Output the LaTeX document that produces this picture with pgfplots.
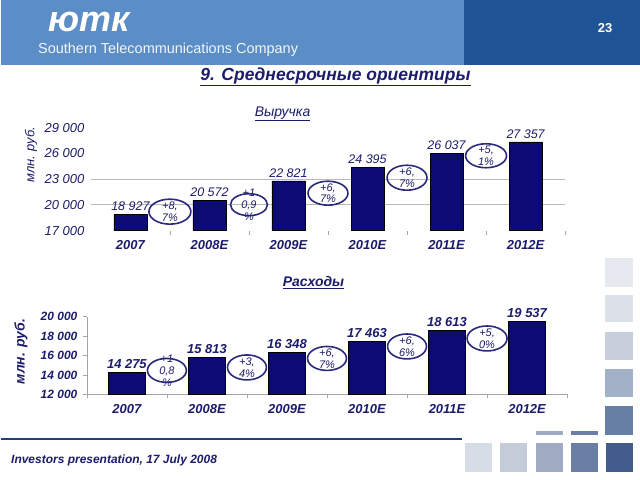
\documentclass[border=0pt]{standalone}
\usepackage{fontspec}
\setmainfont{Liberation Sans}
\usepackage{pgfplots}
\pgfplotsset{compat=1.18}
\usetikzlibrary{shapes.geometric}
\definecolor{hdrlight}{HTML}{5B8DC6}
\definecolor{hdrdark}{HTML}{1F5596}
\definecolor{navy}{HTML}{1C1C6B}
\definecolor{barblue}{HTML}{0B0B73}
\definecolor{ellcol}{HTML}{2A2A7A}
\definecolor{footline}{HTML}{1F3F80}
\definecolor{sqa}{HTML}{E6E9EF}
\definecolor{sqb}{HTML}{DDE2EA}
\definecolor{sqc}{HTML}{C8CFDC}
\definecolor{sqd}{HTML}{A3B1C8}
\definecolor{sqe}{HTML}{687FA5}
\definecolor{sqf}{HTML}{425D8C}
\definecolor{sqg}{HTML}{D7DDE6}
\definecolor{sqh}{HTML}{C5CCD9}
\definecolor{sqi}{HTML}{9EABC3}
\definecolor{sqj}{HTML}{6B7FA4}
\newcommand{\fs}[1]{\fontsize{#1}{#1}\selectfont}
\begin{document}
\begin{tikzpicture}[x=1pt,y=1pt]
% canvas
\fill[white] (0,0) rectangle (640,480);
% header
\fill[hdrlight] (0,415) rectangle (464,480);
\fill[hdrdark] (464,415) rectangle (640,480);
\node[font=\fs{36}\bfseries\itshape, text=white, inner sep=0, anchor=base] at (88,448) {ютк};
\node[font=\fs{14.5}, text=white!92!hdrlight, anchor=west, inner sep=0] at (37,430) {Southern Telecommunications Company};
\node[font=\fs{13}\bfseries, text=white, inner sep=0] at (605,452) {23};
\node[font=\fs{17.5}\bfseries\itshape, text=navy, inner sep=0] at (335,403) {\underline{9. Среднесрочные ориентиры}};
% footer
\draw[footline, line width=2pt] (0,40) -- (462,40);
\node[font=\fs{12}\bfseries\itshape, text=navy, anchor=west, inner sep=0] at (10,19) {Investors presentation, 17 July 2008};
% decorative squares
\fill[sqa] (605,193) rectangle (633,222);
\fill[sqb] (605,157) rectangle (633,185);
\fill[sqc] (605,119) rectangle (633,147);
\fill[sqd] (605,82) rectangle (633,110);
\fill[sqe] (605,44) rectangle (633,73);
\fill[sqf] (606,7) rectangle (633,36);
\fill[sqg] (465,7) rectangle (492,36);
\fill[sqh] (500,7) rectangle (527,36);
\fill[sqi] (536,7) rectangle (563,36);
\fill[sqj] (571,7) rectangle (598,36);
\fill[sqi] (536,44) rectangle (563,48);
\fill[sqj] (571,44) rectangle (598,48);
% chart titles
\node[font=\fs{14}\itshape, text=navy, inner sep=0] at (282,366) {\underline{Выручка}};
\node[font=\fs{14}\bfseries\itshape, text=navy, inner sep=0] at (313,197) {\underline{Расходы}};
\node[font=\fs{13}\itshape, text=navy, rotate=90, inner sep=0] at (30,325) {млн. руб.};
\node[font=\fs{14}\bfseries\itshape, text=navy, rotate=90, inner sep=0] at (20,128) {млн. руб.};
% upper chart
\begin{axis}[at={(90pt,249pt)}, anchor=south west, scale only axis,
  width=475pt, height=103pt, clip=false,
  xmin=-0.5, xmax=5.5, ymin=17000, ymax=29000,
  scaled y ticks=false,
  ybar, bar width=33pt,
  axis line style={draw=none},
  ytick={17000,20000,23000,26000,29000},
  yticklabels={17 000,20 000,23 000,26 000,29 000},
  xtick={0,1,2,3,4,5},
  xticklabels={2007,2008E,2009E,2010E,2011E,2012E},
  major tick length=0pt,
  tick pos=left,
  extra x ticks={0.5,1.5,2.5,3.5,4.5,5.5},
  extra x tick labels={},
  extra x tick style={major tick length=4pt, tick align=outside, tick style={gray!70}},
  extra y ticks={20000,23000},
  extra y tick labels={},
  extra y tick style={ymajorgrids=true, major grid style={gray!55, line width=0.9pt}},
  yticklabel style={font=\fs{13}\itshape, text=navy, xshift=-3pt},
  xticklabel style={font=\fs{13}\bfseries\itshape, text=navy, yshift=-6pt},
  nodes near coords,
  point meta=explicit symbolic,
  every node near coord/.append style={font=\fs{12.5}\itshape, text=navy, yshift=0pt},
]
\addplot[fill=barblue, draw=black, line width=0.4pt] coordinates {
  (0,18927) [18 927]
  (1,20572) [20 572]
  (2,22821) [22 821]
  (3,24395) [24 395]
  (4,26037) [26 037]
  (5,27357) [27 357]
};
\draw[ellcol, line width=1.6pt] (axis cs:0.5,19214) ellipse [x radius=21pt, y radius=12.5pt];
\node[font=\fs{11}\itshape, text=navy, align=center, inner sep=0] at (axis cs:0.5,19214) {+8,\\[1pt]7\%};
\draw[ellcol, line width=1.6pt] (axis cs:1.5,20029) ellipse [x radius=18.5pt, y radius=11pt];
\node[font=\fs{11}\itshape, text=navy, align=center, inner sep=0] at (axis cs:1.5,20029) {+1\\[1pt]0,9\\[1pt]\%};
\draw[ellcol, line width=1.6pt] (axis cs:2.5,21369) ellipse [x radius=20pt, y radius=12pt];
\node[font=\fs{11}\itshape, text=navy, align=center, inner sep=0] at (axis cs:2.5,21369) {+6,\\[1pt]7\%};
\draw[ellcol, line width=1.6pt] (axis cs:3.5,23175) ellipse [x radius=20pt, y radius=12.5pt];
\node[font=\fs{11}\itshape, text=navy, align=center, inner sep=0] at (axis cs:3.5,23175) {+6,\\[1pt]7\%};
\draw[ellcol, line width=1.6pt] (axis cs:4.5,25738) ellipse [x radius=20.5pt, y radius=12pt];
\node[font=\fs{11}\itshape, text=navy, align=center, inner sep=0] at (axis cs:4.5,25738) {+5,\\[1pt]1\%};
\end{axis}
% lower chart
\begin{axis}[at={(86pt,85pt)}, anchor=south west, scale only axis,
  width=481pt, height=78pt, clip=false,
  xmin=-0.5, xmax=5.5, ymin=12000, ymax=20000,
  scaled y ticks=false,
  ybar, bar width=37pt,
  axis x line*=bottom, axis y line*=left,
  axis line style={gray!70, line width=0.6pt},
  ytick={12000,14000,16000,18000,20000},
  yticklabels={12 000,14 000,16 000,18 000,20 000},
  xtick={0,1,2,3,4,5},
  xticklabels={2007,2008E,2009E,2010E,2011E,2012E},
  x tick style={draw=none},
  y tick style={gray!70},
  major tick length=4pt, tick align=outside,
  extra x ticks={-0.5,0.5,1.5,2.5,3.5,4.5,5.5},
  extra x tick labels={},
  extra x tick style={x tick style={draw=gray!70}},
  yticklabel style={font=\fs{12}\bfseries\itshape, text=navy, xshift=-2pt},
  xticklabel style={font=\fs{13}\bfseries\itshape, text=navy, yshift=-3pt},
  nodes near coords,
  point meta=explicit symbolic,
  every node near coord/.append style={font=\fs{13}\bfseries\itshape, text=navy, yshift=0pt},
]
\addplot[fill=barblue, draw=black, line width=0.4pt] coordinates {
  (0,14275) [14 275]
  (1,15813) [15 813]
  (2,16348) [16 348]
  (3,17463) [17 463]
  (4,18613) [18 613]
  (5,19537) [19 537]
};
\draw[ellcol, line width=1.6pt] (axis cs:0.5,14462) ellipse [x radius=19.5pt, y radius=12pt];
\node[font=\fs{11}\itshape, text=navy, align=center, inner sep=0] at (axis cs:0.5,14462) {+1\\[1pt]0,8\\[1pt]\%};
\draw[ellcol, line width=1.6pt] (axis cs:1.5,14769) ellipse [x radius=19.5pt, y radius=12.5pt];
\node[font=\fs{11}\itshape, text=navy, align=center, inner sep=0] at (axis cs:1.5,14769) {+3,\\[1pt]4\%};
\draw[ellcol, line width=1.6pt] (axis cs:2.5,15692) ellipse [x radius=19.5pt, y radius=12pt];
\node[font=\fs{11}\itshape, text=navy, align=center, inner sep=0] at (axis cs:2.5,15692) {+6,\\[1pt]7\%};
\draw[ellcol, line width=1.6pt] (axis cs:3.5,16923) ellipse [x radius=19.5pt, y radius=12.5pt];
\node[font=\fs{11}\itshape, text=navy, align=center, inner sep=0] at (axis cs:3.5,16923) {+6,\\[1pt]6\%};
\draw[ellcol, line width=1.6pt] (axis cs:4.5,17744) ellipse [x radius=20pt, y radius=12.5pt];
\node[font=\fs{11}\itshape, text=navy, align=center, inner sep=0] at (axis cs:4.5,17744) {+5,\\[1pt]0\%};
\end{axis}
\end{tikzpicture}
\end{document}
